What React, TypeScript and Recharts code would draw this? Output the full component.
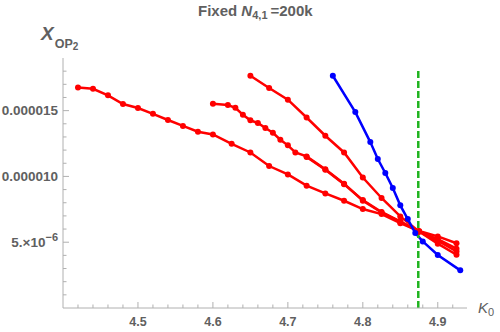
import React from "react";
import { LineChart, Line, XAxis, YAxis, ReferenceLine } from "recharts";

// ---- data ----
const s1K = [4.42, 4.44, 4.46, 4.48, 4.5, 4.52, 4.54, 4.56, 4.58, 4.6, 4.625, 4.65, 4.675, 4.7, 4.725, 4.75, 4.775, 4.8, 4.825, 4.85, 4.875, 4.9, 4.925];
const s1V = [16.76e-6, 16.66e-6, 16.16e-6, 15.5e-6, 15.2e-6, 14.76e-6, 14.29e-6, 13.84e-6, 13.4e-6, 13.19e-6, 12.48e-6, 11.82e-6, 10.79e-6, 10.15e-6, 9.3e-6, 8.71e-6, 8.15e-6, 7.52e-6, 7.14e-6, 6.45e-6, 5.85e-6, 5.44e-6, 4.92e-6];

const s2K = [4.6, 4.62, 4.63, 4.64, 4.65, 4.66, 4.67, 4.68, 4.69, 4.7, 4.71, 4.725, 4.75, 4.775, 4.8, 4.825, 4.85, 4.875, 4.9, 4.925];
const s2V = [15.52e-6, 15.43e-6, 15.22e-6, 14.69e-6, 14.26e-6, 14.06e-6, 13.68e-6, 13.32e-6, 12.79e-6, 12.36e-6, 11.82e-6, 11.52e-6, 10.55e-6, 9.45e-6, 8.15e-6, 7.26e-6, 6.58e-6, 5.82e-6, 5.24e-6, 4.51e-6];

const s4K = [4.725, 4.75, 4.775, 4.8, 4.825, 4.85, 4.875, 4.9, 4.925];
const s4V = [11.48e-6, 10.5e-6, 9.4e-6, 8.2e-6, 7.3e-6, 6.55e-6, 5.8e-6, 5.11e-6, 4.3e-6];

const s3K = [4.65, 4.675, 4.7, 4.725, 4.75, 4.775, 4.8, 4.825, 4.85, 4.875, 4.9, 4.925];
const s3V = [17.65e-6, 16.72e-6, 15.83e-6, 14.48e-6, 13.09e-6, 11.82e-6, 9.92e-6, 8.36e-6, 6.96e-6, 5.82e-6, 4.89e-6, 4.05e-6];

const blueK = [4.76, 4.79, 4.81, 4.82, 4.83, 4.84, 4.85, 4.86, 4.87, 4.88, 4.9, 4.93];
const blueV = [17.65e-6, 14.89e-6, 12.61e-6, 11.32e-6, 10.26e-6, 9.12e-6, 7.8e-6, 6.76e-6, 5.7e-6, 5.06e-6, 4.03e-6, 2.86e-6];

const criticalK = 4.874;
const criticalTop = 18.1e-6;

const xMajorTicks = [4.5, 4.6, 4.7, 4.8, 4.9];
const xMajorLabels = ["4.5", "4.6", "4.7", "4.8", "4.9"];
const xMinorTicks = [4.42, 4.44, 4.46, 4.48, 4.52, 4.54, 4.56, 4.58, 4.62, 4.64, 4.66, 4.68, 4.72, 4.74, 4.76, 4.78, 4.82, 4.84, 4.86, 4.88, 4.92];

const yMajorTicks = [5e-6, 10e-6, 15e-6];
const yMajorLabels = ["5.×10^−6", "0.000010", "0.000015"];
const yMinorTicks = [1e-6, 2e-6, 3e-6, 4e-6, 6e-6, 7e-6, 8e-6, 9e-6, 11e-6, 12e-6, 13e-6, 14e-6, 16e-6, 17e-6, 18e-6];

const toPts = (ks: number[], vs: number[]) => ks.map((k, i) => ({ k, v: vs[i] }));
const series1 = toPts(s1K, s1V);
const series2 = toPts(s2K, s2V);
const series3 = toPts(s3K, s3V);
const series4 = toPts(s4K, s4V);
const seriesBlue = toPts(blueK, blueV);

const AXIS = "#b0b0b0";
const LABEL = "#606060";
const FONT = "'Liberation Sans', Arial, sans-serif";

const findIdx = (arr: number[], v: number, tol: number) => arr.findIndex((m) => Math.abs(m - v) < tol);

const YTick = (props: any) => {
  const { x, y, payload } = props;
  const idx = findIdx(yMajorTicks, payload.value, 1e-9);
  const major = idx >= 0;
  let label: React.ReactNode = null;
  if (major) {
    const s = yMajorLabels[idx];
    const parts = s.split("^");
    label = (
      <text x={x - 5} y={y + 4.5} textAnchor="end" fontSize={13.5} fontWeight="bold" fill={LABEL} fontFamily={FONT}>
        {parts[0]}
        {parts[1] ? (
          <tspan fontSize={11} dy={-6}>
            {parts[1]}
          </tspan>
        ) : null}
      </text>
    );
  }
  return (
    <g>
      <line x1={x} x2={x + (major ? 6 : 3.5)} y1={y} y2={y} stroke={AXIS} strokeWidth={1} />
      {label}
    </g>
  );
};

const XTick = (props: any) => {
  const { x, y, payload } = props;
  const idx = findIdx(xMajorTicks, payload.value, 1e-6);
  const major = idx >= 0;
  return (
    <g>
      <line x1={x} x2={x} y1={y} y2={y - (major ? 6 : 3.5)} stroke={AXIS} strokeWidth={1} />
      {major ? (
        <text x={x} y={y + 18} textAnchor="middle" fontSize={12.5} fontWeight="bold" fill={LABEL} fontFamily={FONT}>
          {xMajorLabels[idx]}
        </text>
      ) : null}
    </g>
  );
};

export default function App() {
  const xTicks = [...xMinorTicks, ...xMajorTicks].sort((a, b) => a - b);
  const yTicks = [...yMinorTicks, ...yMajorTicks].sort((a, b) => a - b);
  const RED = "#ff0000";
  const BLUE = "#0000ff";
  const dotR = 3;
  return (
    <div style={{ position: "absolute", left: 0, top: 0, width: 500, height: 332, background: "#fff" }}>
      <LineChart width={500} height={332} margin={{ top: 58, right: 33, left: 0, bottom: 0 }}>
        <XAxis
          type="number"
          dataKey="k"
          domain={[4.4, 4.939]}
          allowDataOverflow
          ticks={xTicks}
          interval={0}
          tickSize={0}
          tickMargin={0}
          tickLine={false}
          tick={<XTick />}
          axisLine={{ stroke: AXIS }}
          height={24}
        />
        <YAxis
          type="number"
          dataKey="v"
          domain={[0, 1.9e-5]}
          allowDataOverflow
          ticks={yTicks}
          interval={0}
          tickSize={0}
          tickMargin={0}
          tickLine={false}
          tick={<YTick />}
          axisLine={{ stroke: AXIS }}
          width={63}
        />
        <Line data={series1} dataKey="v" stroke={RED} strokeWidth={2.5} dot={{ r: dotR, fill: RED, stroke: RED, strokeWidth: 0 }} isAnimationActive={false} />
        <Line data={series2} dataKey="v" stroke={RED} strokeWidth={2.5} dot={{ r: dotR, fill: RED, stroke: RED, strokeWidth: 0 }} isAnimationActive={false} />
        <Line data={series4} dataKey="v" stroke={RED} strokeWidth={2.5} dot={{ r: dotR, fill: RED, stroke: RED, strokeWidth: 0 }} isAnimationActive={false} />
        <Line data={series3} dataKey="v" stroke={RED} strokeWidth={2.5} dot={{ r: dotR, fill: RED, stroke: RED, strokeWidth: 0 }} isAnimationActive={false} />
        <Line data={seriesBlue} dataKey="v" stroke={BLUE} strokeWidth={2.5} dot={{ r: dotR, fill: BLUE, stroke: BLUE, strokeWidth: 0 }} isAnimationActive={false} />
        <ReferenceLine
          segment={[{ x: criticalK, y: 0 }, { x: criticalK, y: criticalTop }]}
          stroke="#1fb41f"
          strokeWidth={2.5}
          strokeDasharray="7 3"
          ifOverflow="visible"
        />
      </LineChart>
      <svg width={500} height={332} style={{ position: "absolute", left: 0, top: 0, pointerEvents: "none" }}>
        <text x={198} y={16} fontSize={15} fontWeight="bold" fill={LABEL} fontFamily={FONT}>
          Fixed <tspan fontStyle="italic">N</tspan>
          <tspan fontSize={11} dy={3}>4,1</tspan>
          <tspan dy={-3} dx={3}>=200k</tspan>
        </text>
        <text x={41} y={40} fontSize={19} fontStyle="italic" fontWeight="bold" fill={LABEL} fontFamily={FONT}>
          X
          <tspan fontSize={12.5} fontStyle="normal" dy={8} dx={1}>OP</tspan>
          <tspan fontSize={10} fontStyle="normal" dy={2}>2</tspan>
        </text>
        <text x={478} y={313} fontSize={15} fontStyle="italic" fill={LABEL} fontFamily={FONT}>
          K<tspan fontSize={11} fontStyle="normal" dy={3}>0</tspan>
        </text>
      </svg>
    </div>
  );
}
